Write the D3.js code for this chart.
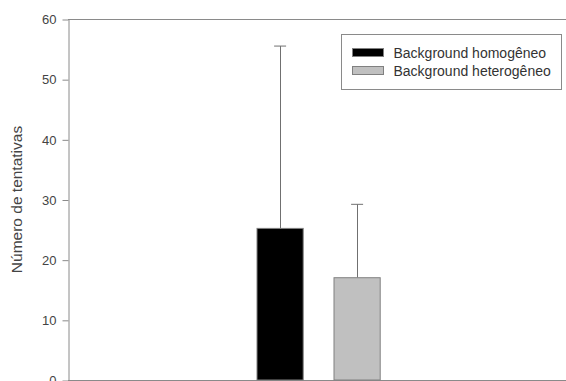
<!DOCTYPE html>
<html>
<head>
<meta charset="utf-8">
<script src="https://cdn.jsdelivr.net/npm/d3@7"></script>
<style>
  body { margin: 0; background: #fff; }
  svg { display: block; font-family: "Liberation Sans", Arial, sans-serif; }
</style>
</head>
<body>
<div id="chart"></div>
<script>
// values
var groups = ["Background homogêneo", "Background heterogêneo"];
var means = [25.2, 17.0];
var upperErr = [55.5, 29.2];
var fills = ["#000000", "#c0c0c0"];
var yTicks = [0, 10, 20, 30, 40, 50, 60];

var width = 566, height = 381;
var svg = d3.select("#chart").append("svg")
    .attr("width", width)
    .attr("height", height);

var plotLeft = 68, plotTop = 19, plotBottom = 380;

var y = d3.scaleLinear().domain([0, 60]).range([plotBottom, plotTop]);
var x = d3.scaleBand().domain(groups)
    .range([241.6, 395.6])
    .paddingInner(0.4)
    .paddingOuter(0.2);

// frame: top border and baseline
svg.append("line")
    .attr("x1", plotLeft).attr("x2", width)
    .attr("y1", plotTop + 0.5).attr("y2", plotTop + 0.5)
    .attr("stroke", "#8a8a8a");
svg.append("line")
    .attr("x1", plotLeft).attr("x2", width)
    .attr("y1", plotBottom + 0.5).attr("y2", plotBottom + 0.5)
    .attr("stroke", "#8a8a8a");

// y axis
var yAxis = svg.append("g")
    .attr("transform", "translate(" + (plotLeft + 0.5) + ",0.5)")
    .call(d3.axisLeft(y).tickValues(yTicks).tickSize(6).tickSizeOuter(0).tickPadding(6));
yAxis.select(".domain").attr("stroke", "#8a8a8a");
yAxis.selectAll(".tick line").attr("stroke", "#8a8a8a");
yAxis.selectAll(".tick text")
    .attr("fill", "#444")
    .style("font-size", "13px");

svg.append("text")
    .attr("transform", "translate(22," + (plotTop + plotBottom) / 2 + ") rotate(-90)")
    .attr("text-anchor", "middle")
    .attr("fill", "#444")
    .style("font-size", "15.5px")
    .text("Número de tentativas");

// error bars (upper only)
var err = svg.append("g").selectAll("g")
    .data(groups)
    .enter().append("g");
err.append("line")
    .attr("x1", function(d) { return Math.round(x(d) + x.bandwidth() / 2) + 0.5; })
    .attr("x2", function(d) { return Math.round(x(d) + x.bandwidth() / 2) + 0.5; })
    .attr("y1", function(d, i) { return y(means[i]); })
    .attr("y2", function(d, i) { return y(upperErr[i]); })
    .attr("stroke", "#707070");
err.append("line")
    .attr("x1", function(d) { return x(d) + x.bandwidth() / 2 - 6; })
    .attr("x2", function(d) { return x(d) + x.bandwidth() / 2 + 6; })
    .attr("y1", function(d, i) { return y(upperErr[i]); })
    .attr("y2", function(d, i) { return y(upperErr[i]); })
    .attr("stroke", "#707070");

// bars
svg.append("g").selectAll("rect")
    .data(groups)
    .enter().append("rect")
    .attr("x", function(d) { return x(d); })
    .attr("width", x.bandwidth())
    .attr("y", function(d, i) { return y(means[i]); })
    .attr("height", function(d, i) { return plotBottom - y(means[i]); })
    .attr("fill", function(d, i) { return fills[i]; })
    .attr("stroke", "#808080");

// legend
var legend = svg.append("g").attr("transform", "translate(341.5,34.5)");
legend.append("rect")
    .attr("width", 220).attr("height", 55)
    .attr("fill", "#fff")
    .attr("stroke", "#8a8a8a");
var item = legend.selectAll(".item")
    .data(groups)
    .enter().append("g")
    .attr("class", "item")
    .attr("transform", function(d, i) { return "translate(11," + (14 + i * 18) + ")"; });
item.append("rect")
    .attr("width", 31).attr("height", 8)
    .attr("fill", function(d, i) { return fills[i]; })
    .attr("stroke", "#808080");
item.append("text")
    .attr("x", 41).attr("y", 9)
    .attr("fill", "#333")
    .style("font-size", "14px")
    .text(function(d) { return d; });
</script>
</body>
</html>
